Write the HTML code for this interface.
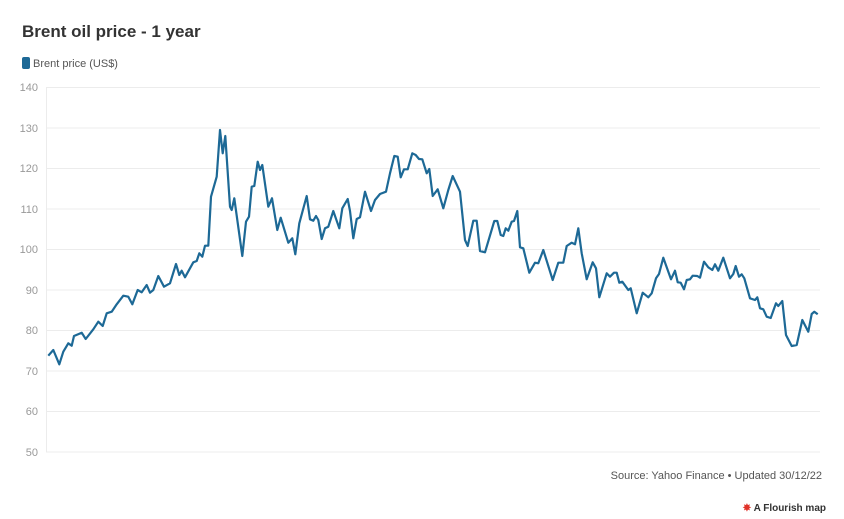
<!DOCTYPE html>
<html><head><meta charset="utf-8"><style>
body{margin:0;width:844px;height:519px;background:#fff;font-family:"Liberation Sans",sans-serif;overflow:hidden;position:relative}
.t{position:absolute;left:22px;top:22px;font-size:17px;font-weight:bold;color:#333}
.lg{position:absolute;left:22px;top:57px;font-size:11px;color:#555}
.lg span{display:inline-block;width:8px;height:12px;background:#1d6996;border-radius:2px;vertical-align:-2px;margin-right:3px}
.src{position:absolute;right:22px;top:470px;font-size:11px;color:#555}
.fl{position:absolute;right:18px;top:503px;font-size:10px;font-weight:bold;color:#333}
.fl b{color:#e0332a}
</style></head><body>
<div class="t">Brent oil price - 1 year</div>
<div class="lg"><span></span>Brent price (US$)</div>
<svg width="844" height="519" style="position:absolute;left:0;top:0">
<g stroke="#ececec" stroke-width="1">
<line x1="46" x2="820" y1="87.5" y2="87.5"/><line x1="46" x2="820" y1="128" y2="128"/>
<line x1="46" x2="820" y1="168.5" y2="168.5"/><line x1="46" x2="820" y1="209" y2="209"/>
<line x1="46" x2="820" y1="249.5" y2="249.5"/><line x1="46" x2="820" y1="290" y2="290"/>
<line x1="46" x2="820" y1="330.5" y2="330.5"/><line x1="46" x2="820" y1="371" y2="371"/>
<line x1="46" x2="820" y1="411.5" y2="411.5"/><line x1="46" x2="820" y1="452" y2="452"/>
<line x1="46.5" x2="46.5" y1="87" y2="452"/>
</g>
<g font-size="11" fill="#999" text-anchor="end" font-family="Liberation Sans, sans-serif">
<text x="38" y="91">140</text><text x="38" y="132">130</text><text x="38" y="172">120</text>
<text x="38" y="213">110</text><text x="38" y="253">100</text><text x="38" y="294">90</text>
<text x="38" y="334">80</text><text x="38" y="375">70</text><text x="38" y="415">60</text><text x="38" y="456">50</text>
</g>
<polyline fill="none" stroke="#1d6996" stroke-width="2.2" stroke-linejoin="round" points="48.3,355.7 53.3,350 59.3,364.3 63.3,351.7 68.3,343.3 71.7,345.7 74,336 81.7,332.7 85.7,339 93.3,329.3 98.3,321.7 102.7,326 106.7,313.3 111.7,311.7 116.7,304.3 123.3,295.7 128.3,296.7 132.3,304.3 137.7,290 141.7,292.3 146.7,285 150,292.7 153.3,290 158.3,276 164,286.7 170,283.3 176,264 179.3,275 181.7,270.7 185,277.3 193.3,262.3 196.7,261 199.3,253.3 202.3,256.7 205,245.7 208.3,245.7 211,196.7 216.7,176.7 220,130 222.7,153.3 225.3,136 230,206.7 231.7,210 234.3,198.3 242.3,256 246,221.7 249,216.7 251.7,186.7 254.3,186 257.7,161.7 260,170 262.3,165 268.3,206.7 272,198.3 277.3,230 280.7,217.7 288.3,242.7 292.3,238.3 295.3,254.3 299.3,223.3 306.7,196 310,219.3 313.3,220.7 316,216 318.3,220 321.7,239 325,228.3 328.3,226.7 333.3,211 339.3,228.3 342.3,208.3 347.7,199 350,211 353.3,238.3 356.7,219 360,217.3 365,191.7 371,211 375,200 380,194 386,191.7 390,173.3 394.3,156 397.7,156.7 400.7,177.3 404,169.3 407.7,169.3 412.3,153.3 415.7,155 419,159 422.3,159.3 426.7,173.3 429.3,169 432.7,196 437.7,189.3 443.3,208.3 448.3,190 452.7,176 460,191.7 465,240 467.7,246 473.3,220.7 476.7,220.7 480,251 485,252.3 494.3,221 497.3,221 500.7,235 503.3,236 505.7,228.3 508.3,230.7 511.7,221.7 514,221 517.3,211 520,247.3 523.3,248.3 529.3,272.7 535,262.7 538.3,263.3 543.3,250 552.7,280 558.3,262.7 563.3,262.7 566.7,246 571.7,242.7 575,244.3 578.3,228.3 581.7,253.3 586.7,279.3 592.7,262.3 596,268.3 599.3,297.3 606.7,273.3 610,276.7 614,272.7 616.7,272.7 619.3,282.7 622.3,281.7 628.3,290 630.7,288.3 636.7,313.3 642.7,292.7 648.3,297.3 651.7,293.3 656,278.3 659,274 663.3,257.7 671,279.3 675,270.7 677.7,282.3 680.7,282.7 684,289.3 686.7,280 690,279.3 692.7,275.7 697.3,276 700,277.7 704,261.7 708.3,267.3 712.3,270 715,264.3 718.3,270.7 723.3,257.7 730,278.3 733.3,274 735.7,266 739,276.7 741.7,274.3 744.3,278.3 750,298.3 755,300 757.3,297.3 760,308.3 763.3,309.3 766.7,316.7 770.7,318 776,303.3 778.3,306 782.3,301 786,335 791.7,346 796.7,345 802.3,320 808.3,331.7 811.7,314 814.3,311.7 817.7,314.3"/>
</svg>
<div class="src">Source: Yahoo Finance • Updated 30/12/22</div>
<div class="fl"><b>✸</b> A Flourish map</div>
</body></html>
